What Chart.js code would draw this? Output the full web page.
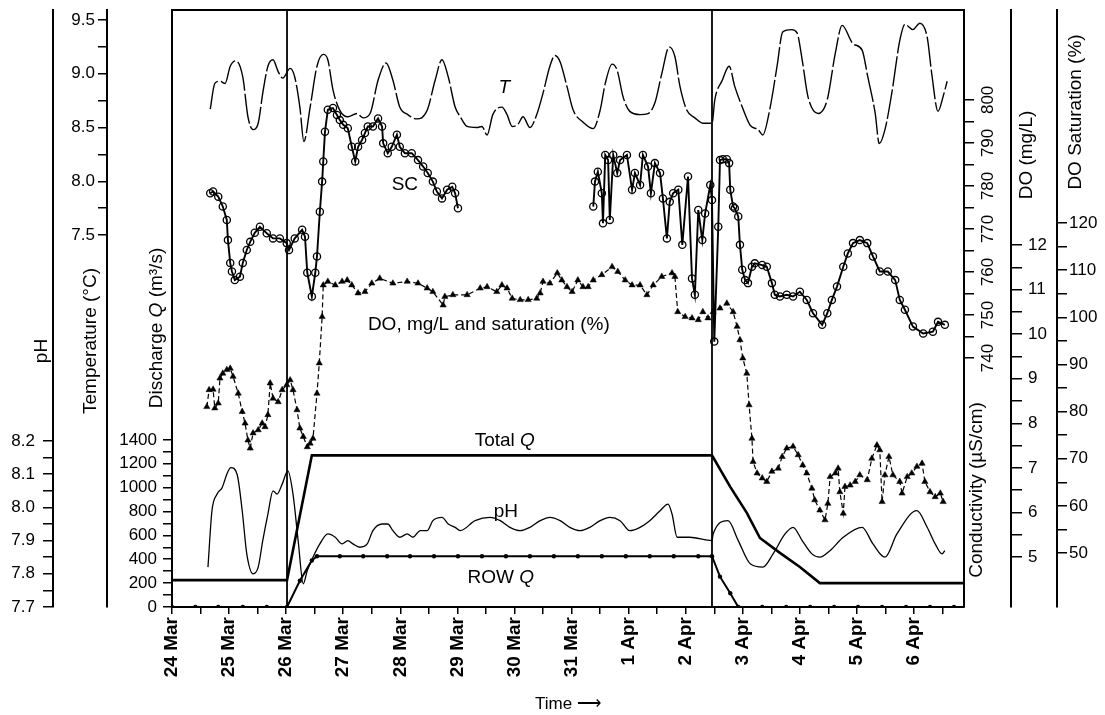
<!DOCTYPE html>
<html>
<head>
<meta charset="utf-8">
<script src="https://cdn.jsdelivr.net/npm/chart.js@4.4.1/dist/chart.umd.min.js"></script>
<style>
  html, body { margin: 0; padding: 0; background: #fff; }
  canvas { display: block; }
</style>
</head>
<body>
<canvas id="graph" width="1105" height="715"></canvas>
<script>
// x = days after 24 Mar 00:00
const dayLabels = ['24 Mar', '25 Mar', '26 Mar', '27 Mar', '28 Mar', '29 Mar', '30 Mar', '31 Mar',
  '1 Apr', '2 Apr', '3 Apr', '4 Apr', '5 Apr', '6 Apr'];
const eventDays = [2.015, 9.46];

// temperature (C)
const tempDays = [0.67,0.75,0.84,0.93,1.02,1.12,1.24,1.33,1.42,1.51,1.59,1.68,1.77,1.86,1.94,2.07,2.15,2.24,2.31,2.42,
  2.54,2.65,2.73,2.82,2.94,3.08,3.24,3.35,3.47,3.61,3.75,3.87,3.99,4.13,4.29,4.47,4.61,4.73,4.84,4.96,
  5.05,5.17,5.34,5.43,5.52,5.62,5.78,5.87,5.96,6.06,6.15,6.27,6.39,6.50,6.62,6.71,6.80,6.92,7.03,7.20,
  7.38,7.50,7.59,7.71,7.80,7.90,8.02,8.20,8.34,8.46,8.58,8.71,8.81,8.90,9.02,9.16,9.30,9.46,9.51,9.64,
  9.76,9.86,9.99,10.13,10.27,10.35,10.48,10.60,10.70,10.86,10.95,11.04,11.14,11.32,11.48,11.62,11.74,11.93,12.09,12.19,
  12.32,12.39,12.49,12.61,12.75,12.84,12.98,13.10,13.23,13.31,13.42,13.51,13.58];
const tempVals = [8.67,8.91,8.93,8.91,9.07,9.12,8.97,8.60,8.48,8.54,8.82,9.07,9.13,9.02,8.96,9.05,8.97,8.69,8.37,8.69,
  9.07,9.18,9.13,8.85,8.66,8.60,8.63,8.59,8.63,8.94,9.10,8.94,8.69,8.62,8.58,8.66,8.94,9.13,8.97,8.69,
  8.60,8.51,8.50,8.51,8.43,8.62,8.69,8.62,8.51,8.53,8.60,8.50,8.62,8.82,9.07,9.17,9.11,8.88,8.66,8.55,
  8.49,8.66,8.91,9.09,9.03,8.79,8.65,8.62,8.63,8.73,9.00,9.25,9.16,8.88,8.66,8.59,8.54,8.54,8.76,8.94,
  9.07,8.88,8.69,8.52,8.48,8.43,8.69,9.07,9.39,9.41,9.38,9.13,8.79,8.63,8.76,9.19,9.45,9.28,9.22,8.97,
  8.63,8.35,8.48,8.82,9.31,9.46,9.41,9.47,9.34,9.00,8.65,8.79,8.93];

// specific conductance (uS/cm), null = gap in record
const scDays = [0.67,0.72,0.81,0.89,0.96,0.98,1.02,1.05,1.10,1.19,1.24,1.31,1.37,1.45,1.54,1.66,1.77,1.89,2.01,2.05,
  2.15,2.28,2.33,2.37,2.45,2.51,2.54,2.59,2.63,2.65,2.68,2.73,2.82,2.89,2.94,3.00,3.08,3.15,3.21,3.26,
  3.33,3.38,3.43,3.52,3.61,3.68,3.70,3.78,3.85,3.94,3.99,4.08,4.20,4.31,4.40,4.48,4.57,4.64,4.73,4.82,
  4.91,4.96,5.01,
  6.2,
  7.38,7.41,7.46,7.53,7.55,7.59,7.64,7.67,7.73,7.80,7.85,7.97,8.06,8.11,8.20,8.25,8.34,8.39,8.46,8.55,
  8.60,8.67,8.72,8.78,8.87,8.94,9.04,9.11,9.16,9.22,9.29,9.34,9.43,9.46,9.50,9.57,9.60,9.65,9.72,9.76,
  9.78,9.83,9.86,9.92,9.95,9.99,10.04,10.09,10.16,10.21,10.34,10.42,10.51,10.56,10.65,10.77,10.88,11.00,11.12,11.23,
  11.39,11.48,11.56,11.65,11.76,11.84,11.93,12.05,12.18,12.28,12.40,12.54,12.67,12.75,12.84,12.98,13.16,13.33,13.42,13.54];
const scVals = [778.3,778.7,777.5,775.2,772.1,767.4,762.1,760.1,758.1,758.9,762.1,765.1,767.0,769.1,770.5,769.0,767.8,767.8,766.7,765.1,
  767.8,769.8,768.2,759.8,754.3,759.8,763.6,774.0,781.0,785.7,792.6,797.7,798.1,796.5,795.3,794.2,793.4,789.1,785.7,789.1,
  790.7,792.3,793.8,793.8,795.7,793.8,789.9,787.6,789.1,791.9,789.1,787.6,787.6,786.0,784.5,783.0,781.0,778.7,777.1,779.1,
  779.8,778.3,774.8,
  null,
  775.2,781.0,783.3,778.3,771.3,787.2,786.0,772.1,787.2,783.0,786.0,787.2,779.1,783.0,780.2,787.2,784.5,778.3,785.3,783.0,
  777.1,767.8,776.3,778.3,779.1,766.3,782.2,758.5,754.7,774.4,767.4,773.6,780.2,776.7,743.8,770.5,786.0,786.2,786.2,785.3,
  779.1,775.2,774.8,772.9,766.3,760.5,758.1,757.4,761.2,762.0,761.6,761.2,757.4,754.7,754.3,754.7,754.3,755.4,753.5,750.4,
  747.7,750.4,753.5,756.6,761.2,764.3,766.7,767.4,766.7,763.6,760.1,760.1,758.1,753.5,751.2,747.3,745.7,746.1,748.4,747.7];

// dissolved oxygen (mg/L)
const doDays = [0.61,0.65,0.72,0.75,0.81,0.84,0.89,0.96,1.02,1.07,1.16,1.23,1.28,1.33,1.37,1.42,1.51,1.58,1.63,1.68,
  1.72,1.77,1.86,1.93,2.01,2.07,2.12,2.19,2.24,2.30,2.37,2.42,2.47,2.54,2.58,2.63,2.65,2.73,2.86,2.98,
  3.07,3.15,3.26,3.38,3.50,3.64,3.87,4.12,4.31,4.47,4.57,4.75,4.78,4.92,5.17,5.40,5.52,5.69,5.78,5.87,
  5.96,6.10,6.24,6.39,6.45,6.50,6.62,6.75,6.83,6.92,7.01,7.11,7.20,7.29,7.38,7.53,7.71,7.81,7.94,8.06,
  8.20,8.32,8.43,8.58,8.76,8.81,8.86,8.99,9.11,9.22,9.30,9.39,9.48,9.60,9.72,9.83,9.90,9.95,10.00,10.07,
  10.11,10.16,10.18,10.25,10.34,10.42,10.51,10.62,10.69,10.77,10.88,10.97,11.05,11.12,11.21,11.26,11.35,11.44,11.49,11.53,
  11.62,11.67,11.70,11.76,11.79,11.88,11.97,12.05,12.18,12.26,12.35,12.40,12.44,12.49,12.56,12.63,12.75,12.79,12.88,12.96,
  13.05,13.14,13.19,13.28,13.37,13.46,13.51];
const doVals = [8.37,8.75,8.76,8.34,8.45,9.01,9.12,9.20,9.23,9.05,8.67,8.26,8.00,7.62,7.44,7.78,7.85,8.00,7.92,8.19,
  8.90,8.56,8.48,8.75,8.86,8.97,8.75,8.30,7.89,7.70,7.47,7.55,7.66,8.67,9.35,10.39,11.10,11.18,11.10,11.18,
  11.21,11.10,10.92,10.95,11.14,11.25,11.14,11.18,11.14,11.03,10.95,10.65,10.84,10.88,10.88,11.03,11.06,10.95,11.10,11.03,
  10.80,10.77,10.77,10.80,10.92,11.18,11.14,11.37,11.21,11.06,10.95,11.21,11.06,11.06,11.21,11.33,11.51,11.40,11.21,11.10,
  11.10,10.88,11.10,11.29,11.37,11.29,10.50,10.39,10.36,10.32,10.50,10.36,10.50,10.58,10.69,10.50,10.17,9.87,9.46,9.12,
  8.41,7.66,7.14,6.88,6.77,6.69,6.92,6.99,7.25,7.44,7.48,7.29,7.06,6.88,6.54,6.28,6.05,5.83,6.20,6.80,
  6.88,6.99,6.46,5.98,6.58,6.61,6.69,6.84,6.73,7.21,7.51,7.40,6.24,6.84,7.25,6.84,6.69,6.43,6.80,6.88,
  7.03,7.10,6.69,6.46,6.35,6.43,6.24];

// pH
const phDays = [0.63,0.70,0.79,0.88,0.96,1.03,1.14,1.23,1.31,1.42,1.51,1.59,1.68,1.77,1.84,1.93,2.03,2.12,2.21,2.30,
  2.37,2.47,2.59,2.73,2.86,2.98,3.08,3.17,3.29,3.42,3.52,3.68,3.78,3.87,3.99,4.12,4.22,4.35,4.47,4.57,
  4.73,4.84,4.96,5.05,5.31,5.57,5.75,5.92,6.10,6.27,6.45,6.62,6.80,6.97,7.15,7.32,7.50,7.67,7.85,8.02,
  8.20,8.37,8.55,8.69,8.76,8.85,9.07,9.46,9.48,9.74,9.92,10.13,10.35,10.53,10.74,10.88,11.04,11.21,11.35,11.53,
  11.76,12.09,12.28,12.49,12.70,13.05,13.23,13.37,13.49,13.54];
const phVals = [7.82,7.99,8.04,8.06,8.10,8.12,8.10,7.99,7.86,7.80,7.82,7.90,7.98,8.05,8.04,8.07,8.11,8.04,7.90,7.77,
  7.81,7.85,7.89,7.92,7.91,7.89,7.90,7.89,7.88,7.89,7.93,7.95,7.95,7.93,7.91,7.92,7.91,7.93,7.93,7.96,
  7.97,7.95,7.94,7.93,7.96,7.97,7.96,7.94,7.93,7.94,7.96,7.97,7.96,7.94,7.93,7.94,7.96,7.97,7.96,7.93,
  7.94,7.96,7.99,8.01,7.98,7.91,7.91,7.90,7.92,7.96,7.90,7.83,7.82,7.86,7.92,7.94,7.90,7.86,7.85,7.87,
  7.91,7.94,7.89,7.85,7.92,7.99,7.94,7.89,7.86,7.87];

// discharge (m3/s)
const totalQDays = [0, 2.015, 2.45, 9.46, 9.78, 10.07, 10.30, 10.65, 11.00, 11.35, 13.875];
const totalQ = [225, 225, 1270, 1270, 1006, 788, 578, 453, 335, 200, 200];
const rowQDays = [0, 0.41, 0.81, 1.24, 1.66, 2.015, 2.24, 2.45, 2.54, 2.94, 3.35, 3.77, 4.17, 4.59, 5.01, 5.43,
  5.85, 6.27, 6.69, 7.11, 7.53, 7.95, 8.37, 8.79, 9.22, 9.46, 9.60, 9.78, 9.92, 10.34, 10.76, 11.18,
  11.60, 12.02, 12.44, 12.86, 13.28, 13.70];
const rowQ = [0, 0, 0, 0, 0, 0, 220, 390, 425, 425, 425, 425, 425, 425, 425, 425,
  425, 425, 425, 425, 425, 425, 425, 425, 425, 425, 254, 115, 0, 0, 0, 0,
  0, 0, 0, 0, 0, 0];

// axis tick labels
const phLabels = [7.7, 7.8, 7.9, 8.0, 8.1, 8.2];
const tempLabels = [7.5, 8.0, 8.5, 9.0, 9.5];
const qLabels = [0, 200, 400, 600, 800, 1000, 1200, 1400];
const condLabels = [740, 750, 760, 770, 780, 790, 800];
const doLabels = [5, 6, 7, 8, 9, 10, 11, 12];
const satLabels = [50, 60, 70, 80, 90, 100, 110, 120];

const FONT = '"Liberation Sans", Arial, sans-serif';
Chart.defaults.font.family = FONT;
Chart.defaults.color = '#000';

const pts = (xs, ys) => xs.map((x, i) => ({ x: x, y: ys[i] }));
const steps = (a, b, st) => {
  const out = [];
  for (let v = a; v <= b + 1e-9; v += st) out.push(Math.round(v * 1000) / 1000);
  return out;
};
const isMajor = (list, v) => list.some(m => Math.abs(m - v) < 1e-6);

function yAxis(o) {
  return {
    type: 'linear', position: o.pos, weight: o.weight, min: o.min, max: o.max,
    afterBuildTicks: s => { s.ticks = o.ticks.map(v => ({ value: v })); },
    afterFit: s => { s.width = o.width; s.paddingTop = 0; s.paddingBottom = 0; },
    ticks: {
      autoSkip: false, padding: o.pad, font: { size: 17 }, color: '#000',
      minRotation: o.rot || 0, maxRotation: o.rot || 0, crossAlign: o.rot ? 'center' : 'near',
      callback: v => isMajor(o.major, v) ? v.toFixed(o.dec) : ''
    },
    grid: { drawOnChartArea: false, tickLength: o.tick, color: '#000', lineWidth: 1.5 },
    border: { color: '#000', width: 2, dash: o.dash || [] }
  };
}

const axisTitles = [
  { parts: [['pH']], x: 42, y: 351 },
  { parts: [['Temperature (°C)']], x: 91, y: 341 },
  { parts: [['Discharge '], ['Q', 1], [' (m³/s)']], x: 157, y: 328 },
  { parts: [['Conductivity (µS/cm)']], x: 977, y: 490 },
  { parts: [['DO (mg/L)']], x: 1027, y: 155 },
  { parts: [['DO Saturation (%)']], x: 1076, y: 112 }
];
const seriesNotes = [
  { parts: [['T', 1]], day: 5.82, axis: 'yT', val: 8.87 },
  { parts: [['SC']], day: 4.08, axis: 'yC', val: 780.2 },
  { parts: [['DO, mg/L and saturation (%)']], day: 5.55, axis: 'yDO', val: 10.2 },
  { parts: [['Total '], ['Q', 1]], day: 5.83, axis: 'yQ', val: 1390 },
  { parts: [['pH']], day: 5.85, axis: 'yPH', val: 7.986 },
  { parts: [['ROW '], ['Q', 1]], day: 5.76, axis: 'yQ', val: 243 }
];

function drawParts(ctx, parts, x, y, rot) {
  const fontFor = it => (it ? 'italic ' : '') + '19px ' + FONT;
  ctx.save();
  ctx.translate(x, y);
  if (rot) ctx.rotate(-Math.PI / 2);
  let total = 0;
  parts.forEach(p => { ctx.font = fontFor(p[1]); total += ctx.measureText(p[0]).width; });
  let cx = -total / 2;
  ctx.fillStyle = '#000';
  ctx.textAlign = 'left';
  ctx.textBaseline = 'middle';
  parts.forEach(p => {
    ctx.font = fontFor(p[1]);
    ctx.fillText(p[0], cx, 0);
    cx += ctx.measureText(p[0]).width;
  });
  ctx.restore();
}

const textPlugin = {
  id: 'texts',
  afterDraw(chart) {
    const ctx = chart.ctx;
    axisTitles.forEach(t => drawParts(ctx, t.parts, t.x, t.y, true));
    seriesNotes.forEach(n => {
      const x = chart.scales.x.getPixelForValue(n.day);
      const y = chart.scales[n.axis].getPixelForValue(n.val);
      drawParts(ctx, n.parts, x, y, false);
    });
  }
};

const eventSets = eventDays.map(d => ({
  data: [{ x: d, y: 0 }, { x: d, y: 1 }], yAxisID: 'yFull',
  borderColor: '#000', borderWidth: 1.8, pointRadius: 0
}));

var ctx = document.getElementById('graph').getContext('2d');
var myChart = new Chart(ctx, {
  type: 'line',
  data: {
    datasets: [
      { data: pts(totalQDays, totalQ), yAxisID: 'yQ', borderColor: '#000', borderWidth: 2.6, pointRadius: 0 },
      { data: pts(rowQDays, rowQ), yAxisID: 'yQ', borderColor: '#000', borderWidth: 2,
        pointRadius: 2.2, pointBorderWidth: 0, pointBackgroundColor: '#000' },
      { data: pts(phDays, phVals), yAxisID: 'yPH', borderColor: '#000', borderWidth: 1.3,
        pointRadius: 0, cubicInterpolationMode: 'monotone' },
      { data: pts(tempDays, tempVals), yAxisID: 'yT', borderColor: '#000', borderWidth: 1.4,
        borderDash: [30, 3], pointRadius: 0, cubicInterpolationMode: 'monotone' },
      { data: pts(scDays, scVals), yAxisID: 'yC', borderColor: '#000', borderWidth: 1.9,
        pointRadius: 3.6, pointBorderWidth: 1.3, pointBorderColor: '#000', pointBackgroundColor: 'rgba(255,255,255,0)' },
      { data: pts(doDays, doVals), yAxisID: 'yDO', borderColor: '#000', borderWidth: 1.2, borderDash: [5, 3],
        pointStyle: 'triangle', pointRadius: 3.6, pointBorderWidth: 0.5, pointBorderColor: '#000', pointBackgroundColor: '#000' }
    ].concat(eventSets)
  },
  options: {
    responsive: false,
    devicePixelRatio: 1,
    animation: false,
    layout: { padding: { top: 10, left: 0, right: 0, bottom: 0 } },
    plugins: { legend: { display: false }, tooltip: { enabled: false } },
    scales: {
      x: {
        type: 'linear', position: 'bottom', min: 0, max: 13.875,
        afterBuildTicks: s => { s.ticks = steps(0, 13.5, 0.5).map(v => ({ value: v })); },
        afterFit: s => { s.height = 108; s.paddingLeft = 0; s.paddingRight = 0; },
        ticks: {
          autoSkip: false, minRotation: 90, maxRotation: 90, padding: 3,
          font: { size: 19, weight: 'bold' }, color: '#000',
          callback: v => Number.isInteger(v) ? dayLabels[v] : ''
        },
        grid: { drawOnChartArea: false, tickLength: 7, color: '#000', lineWidth: 1.5 },
        border: { color: '#000', width: 2 },
        title: { display: true, text: 'Time ⟶', font: { size: 17 }, color: '#000', padding: { top: 0, bottom: 0 } }
      },
      xTop: {
        type: 'linear', position: 'top', min: 0, max: 13.875,
        afterFit: s => { s.height = 0; },
        ticks: { display: false }, grid: { display: false },
        border: { color: '#000', width: 2 }
      },
      yQ: yAxis({ pos: 'left', weight: 0, min: 0, max: 5000, ticks: steps(0, 1400, 100), major: qLabels,
        dec: 0, width: 65, tick: 9, pad: 6 }),
      yT: yAxis({ pos: 'left', weight: 1, min: 4.04, max: 9.593, ticks: steps(7.5, 9.5, 0.25), major: tempLabels,
        dec: 1, width: 54, tick: 9, pad: 3 }),
      yPH: yAxis({ pos: 'left', weight: 2, min: 7.7, max: 9.498, ticks: steps(7.7, 8.2, 0.05), major: phLabels,
        dec: 1, width: 53, tick: 10, pad: 8 }),
      yC: yAxis({ pos: 'right', weight: 0, min: 682.1, max: 820.9, ticks: steps(740, 800, 5), major: condLabels,
        dec: 0, width: 47, tick: 10, pad: 0, rot: 90 }),
      yDO: yAxis({ pos: 'right', weight: 1, min: 3.88, max: 17.27, ticks: steps(5, 12, 0.5), major: doLabels,
        dec: 0, width: 46, tick: 11, pad: 6, dash: [12, 2] }),
      yS: yAxis({ pos: 'right', weight: 2, min: 38.55, max: 165.2, ticks: steps(50, 120, 5), major: satLabels,
        dec: 0, width: 48, tick: 10, pad: 2, dash: [12, 2] }),
      yFull: { type: 'linear', display: false, min: 0, max: 1 }
    }
  },
  plugins: [textPlugin]
});
</script>
</body>
</html>
